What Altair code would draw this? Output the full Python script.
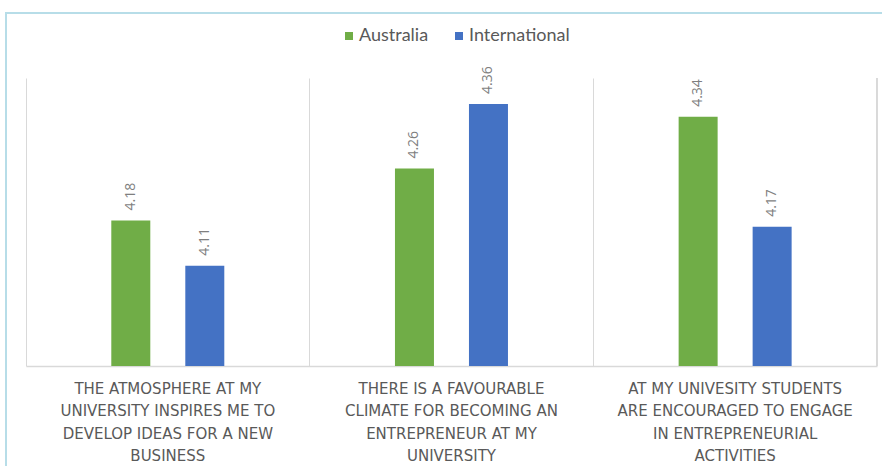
import altair as alt
import pandas as pd

# Survey statements (line breaks mark where each axis label wraps)
statements = [
    "THE ATMOSPHERE AT MY\nUNIVERSITY INSPIRES ME TO\nDEVELOP IDEAS FOR A NEW\nBUSINESS",
    "THERE IS A FAVOURABLE\nCLIMATE FOR BECOMING AN\nENTREPRENEUR AT MY\nUNIVERSITY",
    "AT MY UNIVESITY STUDENTS\nARE ENCOURAGED TO ENGAGE\nIN ENTREPRENEURIAL\nACTIVITIES",
]
groups = ["Australia", "International"]
australia = [4.18, 4.26, 4.34]
international = [4.11, 4.36, 4.17]
colors = ["#70ad47", "#4472c4"]

rows = []
for s, a, i in zip(statements, australia, international):
    rows.append({"statement": s, "group": groups[0], "score": a})
    rows.append({"statement": s, "group": groups[1], "score": i})
df = pd.DataFrame(rows)

W, H = 851, 288
FONT = "DejaVu Sans"

x_enc = alt.X(
    "statement:N",
    sort=statements,
    scale=alt.Scale(paddingInner=0, paddingOuter=0),
    axis=alt.Axis(
        title=None,
        labelAngle=0,
        labelExpr="split(datum.label, '\\n')",
        labelFont=FONT,
        labelFontSize=15,
        labelColor="#595959",
        labelLineHeight=22.5,
        labelPadding=15,
        labelBaseline="top",
        labelLimit=400,
        ticks=False,
        grid=True,
        gridColor="#d9d9d9",
        gridWidth=1,
        bandPosition=0,
        domainColor="#d9d9d9",
        domainWidth=1.5,
    ),
)
# two bars per statement, 39 px wide and 74 px apart, centred in the band
xoff_enc = alt.XOffset(
    "group:N",
    sort=groups,
    scale=alt.Scale(range=[85.3, 198.3], paddingInner=0.473, paddingOuter=0),
)
y_enc = alt.Y(
    "score:Q",
    scale=alt.Scale(domain=[3.955, 4.4], zero=False, nice=False),
    axis=None,
)

bars = alt.Chart(df).mark_bar(clip=True).encode(
    x=x_enc,
    xOffset=xoff_enc,
    y=y_enc,
    color=alt.Color(
        "group:N",
        sort=groups,
        scale=alt.Scale(domain=groups, range=colors),
        legend=alt.Legend(
            title=None,
            orient="none",
            direction="horizontal",
            legendX=314,
            legendY=-51,
            symbolType="square",
            symbolSize=64,
            symbolStrokeWidth=0,
            labelFont="Lato",
            labelFontSize=18,
            labelColor="#595959",
            columnPadding=21,
            labelOffset=1,
        ),
    ),
)

labels = alt.Chart(df).mark_text(
    angle=270,
    align="left",
    baseline="middle",
    dx=10,
    font="Open Sans",
    fontSize=14,
    color="#7f7f7f",
).encode(
    x=alt.X("statement:N", sort=statements),
    xOffset=alt.XOffset("group:N", sort=groups),
    y="score:Q",
    text=alt.Text("score:Q", format=".2f"),
)

# right-hand separator closing the last category band
right_edge = alt.Chart(df).mark_rule(color="#d9d9d9", strokeWidth=1).encode(
    x=alt.value(W), y=alt.value(0), y2=alt.value(H)
)

# light blue frame around the chart area
frame = alt.Chart(df).mark_rect(
    fill=None, stroke="#b7dde8", strokeWidth=2, clip=False
).encode(
    x=alt.value(-20), x2=alt.value(W + 40), y=alt.value(-65), y2=alt.value(H + 140)
)

chart = (
    alt.layer(frame, right_edge, bars, labels)
    .properties(
        width=W,
        height=H,
        autosize=alt.AutoSizeParams(type="none"),
        padding={"left": 26, "top": 78, "right": 5, "bottom": 100},
        background="white",
    )
    .configure_view(stroke=None)
)

chart.save("out.html", embed_options={"renderer": "svg", "actions": False})
